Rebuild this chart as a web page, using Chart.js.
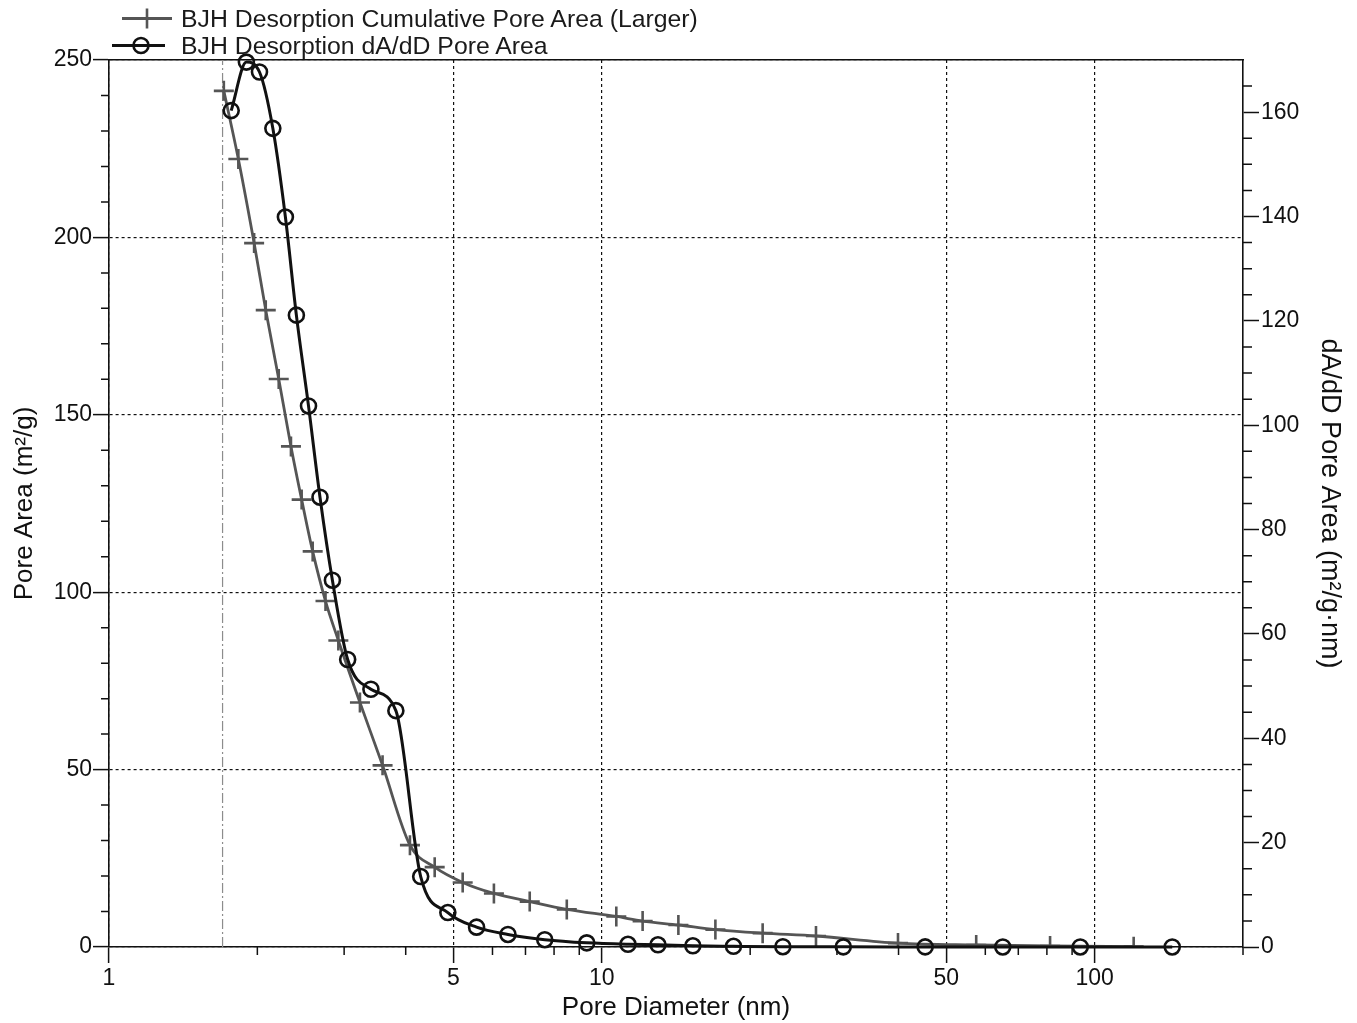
<!DOCTYPE html>
<html>
<head>
<meta charset="utf-8">
<title>BJH Desorption Pore Area</title>
<script src="https://cdn.jsdelivr.net/npm/chart.js@4.4.1/dist/chart.umd.min.js"></script>
<style>
    html, body { margin: 0; padding: 0; background: #fff; }
    #wrap { position: relative; width: 1357px; height: 1023px; }
    #legend {
        position: absolute; left: 105px; top: 5px;
        font-family: "Liberation Sans", Arial, sans-serif; font-size: 24.8px; color: #1a1a1a;
    }
    .legend-row { display: flex; align-items: center; height: 27px; }
    .legend-row svg { width: 72px; height: 27px; margin-right: 4px; }
</style>
</head>
<body>
<div id="wrap">
    <canvas id="pore-chart" width="1357" height="1023"></canvas>
    <div id="legend">
        <div class="legend-row">
            <svg viewBox="0 0 72 27"><line x1="17" y1="13.5" x2="67" y2="13.5" stroke="#555" stroke-width="2.8"/><line x1="42" y1="3.5" x2="42" y2="23.5" stroke="#555" stroke-width="2.6"/></svg>
            <span>BJH Desorption Cumulative Pore Area (Larger)</span>
        </div>
        <div class="legend-row">
            <svg viewBox="0 0 72 27"><line x1="7" y1="13.5" x2="60" y2="13.5" stroke="#111" stroke-width="3"/><circle cx="36" cy="13.5" r="7.5" fill="none" stroke="#111" stroke-width="2.6"/></svg>
            <span>BJH Desorption dA/dD Pore Area</span>
        </div>
    </div>
</div>
<script>
// Cumulative pore area (crosses, left axis)
const cumDiameters = [1.71, 1.83, 1.97, 2.08, 2.21, 2.34, 2.46, 2.59, 2.75, 2.92, 3.23, 3.59, 4.08, 4.58,
    5.22, 6.04, 7.14, 8.49, 10.7, 12.1, 14.3, 17.0, 21.2, 27.2, 39.9, 57.5, 81.2, 120];
const cumArea = [241.3, 222.1, 198.4, 179.5, 160.1, 141.1, 126.1, 111.5, 97.5, 86.4, 68.9, 51.2, 28.7, 22.5,
    18.2, 15.1, 12.8, 10.6, 8.6, 7.3, 6.2, 4.9, 3.9, 3.1, 1.1, 0.56, 0.28, 0.1];

// dA/dD pore area (circles, right axis)
const diffDiameters = [1.77, 1.90, 2.02, 2.15, 2.28, 2.40, 2.54, 2.68, 2.84, 3.05, 3.40, 3.82, 4.29, 4.87,
    5.57, 6.45, 7.66, 9.32, 11.3, 13.0, 15.3, 18.5, 23.3, 30.9, 45.3, 65.1, 93.5, 143.7];
const diffArea = [160.3, 169.6, 167.7, 156.9, 139.9, 121.1, 103.7, 86.2, 70.3, 55.1, 49.4, 45.3, 13.5, 6.6,
    3.8, 2.4, 1.4, 0.8, 0.52, 0.42, 0.23, 0.14, 0.05, 0.03, 0.02, 0.01, 0.01, 0.005];

// vertical marker at the lower pore size limit
const minPoreDiameter = 1.7;

// ticks
const xMajorTicks = [1, 5, 10, 50, 100];
const xMinorTicks = [2, 3, 4, 6, 7, 8, 9, 20, 30, 40, 60, 70, 80, 90, 200];
const leftMajorTicks = [0, 50, 100, 150, 200, 250];
const leftMinorTicks = [10, 20, 30, 40, 60, 70, 80, 90, 110, 120, 130, 140, 160, 170, 180, 190, 210, 220, 230, 240];
const rightMajorTicks = [0, 20, 40, 60, 80, 100, 120, 140, 160];
const rightMinorTicks = [5, 10, 15, 25, 30, 35, 45, 50, 55, 65, 70, 75, 85, 90, 95, 105, 110, 115, 125, 130, 135, 145, 150, 155, 165];

const FONT = '"Liberation Sans", Arial, sans-serif';
const INK = '#111111';
const GREY = '#555555';

// short minor tick marks on all three axes
const minorTickPlugin = {
    id: 'minorTicks',
    afterDraw(chart) {
        const ctx = chart.ctx;
        const { x, y, y2 } = chart.scales;
        ctx.save();
        ctx.strokeStyle = INK;
        ctx.lineWidth = 1.5;
        ctx.beginPath();
        xMinorTicks.forEach(v => {
            const px = x.getPixelForValue(v);
            ctx.moveTo(px, x.top);
            ctx.lineTo(px, x.top + 8);
        });
        leftMinorTicks.forEach(v => {
            const py = y.getPixelForValue(v);
            ctx.moveTo(y.right, py);
            ctx.lineTo(y.right - 8, py);
        });
        rightMinorTicks.forEach(v => {
            const py = y2.getPixelForValue(v);
            ctx.moveTo(y2.left, py);
            ctx.lineTo(y2.left + 9, py);
        });
        ctx.stroke();
        ctx.restore();
    }
};

Chart.defaults.font.family = FONT;
Chart.defaults.color = INK;

const toPoints = (xs, ys) => xs.map((d, i) => ({ x: d, y: ys[i] }));
const tickFont = { family: FONT, size: 23 };
const titleFont = { family: FONT, size: 26 };

new Chart(document.getElementById('pore-chart'), {
    type: 'line',
    data: {
        datasets: [
            {
                label: 'BJH Desorption dA/dD Pore Area',
                data: toPoints(diffDiameters, diffArea),
                yAxisID: 'y2',
                borderColor: INK,
                borderWidth: 3,
                pointStyle: 'circle',
                pointRadius: 7.5,
                pointBorderWidth: 2.6,
                pointBorderColor: INK,
                pointBackgroundColor: 'rgba(0,0,0,0)',
                cubicInterpolationMode: 'monotone',
                clip: false,
                order: 1
            },
            {
                label: 'BJH Desorption Cumulative Pore Area (Larger)',
                data: toPoints(cumDiameters, cumArea),
                yAxisID: 'y',
                borderColor: GREY,
                borderWidth: 2.8,
                pointStyle: 'cross',
                pointRadius: 10,
                pointBorderWidth: 2.6,
                pointBorderColor: GREY,
                cubicInterpolationMode: 'monotone',
                order: 2
            },
            {
                label: 'limit',
                data: [{ x: minPoreDiameter, y: 0 }, { x: minPoreDiameter, y: 250 }],
                yAxisID: 'y',
                borderColor: '#8c8c8c',
                borderWidth: 1.2,
                borderDash: [10, 3, 2, 3],
                pointRadius: 0,
                order: 3
            }
        ]
    },
    options: {
        responsive: false,
        animation: false,
        layout: { padding: { top: 60, left: 0, right: 0, bottom: 0 } },
        plugins: {
            legend: { display: false },
            tooltip: { enabled: false }
        },
        scales: {
            x: {
                type: 'logarithmic',
                position: 'bottom',
                min: 1,
                max: 200,
                afterBuildTicks: s => { s.ticks = xMajorTicks.map(v => ({ value: v })); },
                afterFit: s => { s.height = 76; },
                ticks: { font: tickFont, color: INK, padding: 2, maxRotation: 0, autoSkip: false, callback: v => String(v) },
                grid: { color: INK, lineWidth: 1.2, tickLength: 16, tickColor: INK, tickWidth: 1.5 },
                border: { color: INK, width: 1.6, dash: [3, 3] },
                title: { display: true, text: 'Pore Diameter (nm)', font: titleFont, color: INK, padding: { top: 0, bottom: 0 } }
            },
            xTop: {
                type: 'logarithmic',
                position: 'top',
                min: 1,
                max: 200,
                afterFit: s => { s.height = 0; },
                ticks: { display: false },
                grid: { display: false },
                border: { color: INK, width: 1.5 }
            },
            y: {
                type: 'linear',
                position: 'left',
                min: 0,
                max: 250,
                afterBuildTicks: s => { s.ticks = leftMajorTicks.map(v => ({ value: v })); },
                afterFit: s => { s.width = 109; },
                ticks: { font: tickFont, color: INK, padding: 1 },
                grid: { color: INK, lineWidth: 1.2, tickLength: 16, tickColor: INK, tickWidth: 1.5 },
                border: { color: INK, width: 1.6, dash: [3, 3] },
                title: { display: true, text: 'Pore Area (m²/g)', font: titleFont, color: INK, padding: { top: 9, bottom: 0 } }
            },
            y2: {
                type: 'linear',
                position: 'right',
                min: 0,
                max: 170,
                afterBuildTicks: s => { s.ticks = rightMajorTicks.map(v => ({ value: v })); },
                afterFit: s => { s.width = 114; },
                ticks: { font: tickFont, color: INK, padding: 2 },
                grid: { drawOnChartArea: false, color: INK, tickLength: 16, tickColor: INK, tickWidth: 1.5 },
                border: { color: INK, width: 1.6 },
                title: { display: true, text: 'dA/dD Pore Area (m²/g·nm)', font: { family: FONT, size: 27 }, color: INK, padding: { top: 11, bottom: 0 } }
            }
        }
    },
    plugins: [minorTickPlugin]
});
</script>
</body>
</html>
